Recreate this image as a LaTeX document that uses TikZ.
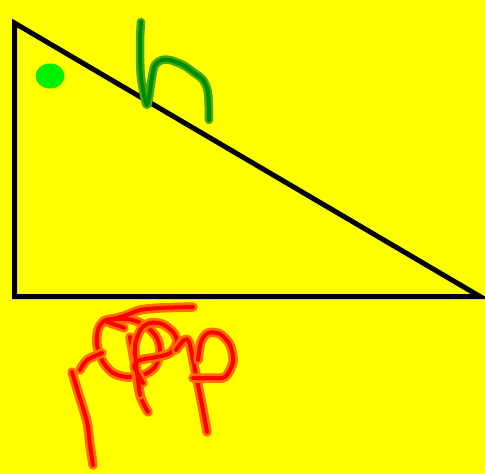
\documentclass[tikz,border=0pt]{standalone}
\begin{document}
\begin{tikzpicture}[x=1pt,y=-1pt,
  gstroke/.style={line cap=round,line join=round,draw=gin,line width=4pt,
    preaction={draw=gout,line width=8.5pt,line cap=round,line join=round}},
  rstroke/.style={line cap=round,line join=round,draw=rin,line width=4pt,
    preaction={draw=rout,line width=9.5pt,line cap=round,line join=round}}]
\definecolor{bg}{RGB}{255,255,0}
\definecolor{gout}{RGB}{70,170,20}
\definecolor{gin}{RGB}{0,140,0}
\definecolor{rout}{RGB}{255,110,0}
\definecolor{rin}{RGB}{255,0,0}
\definecolor{dot}{RGB}{0,240,0}
\fill[bg] (0,0) rectangle (485,474);
\useasboundingbox (0,0) rectangle (485,474);
% triangle
\coordinate (A) at (14.5,23);
\coordinate (B) at (14.5,296.5);
\coordinate (C) at (480,296.5);
\draw[line width=5pt,line join=miter] (A) -- (B) -- (C) -- cycle;
% green dot
\fill[dot] (50,76) ellipse [x radius=14.5, y radius=12.5];
% h
\draw[gstroke] plot[smooth,tension=0.5] coordinates {(141,22) (140,43) (141,77) (147,105) (152,77) (155,65) (162,60) (170,60) (183,65) (193,72) (203,80) (208,93) (209,120)};
% red scribble
\draw[rstroke] plot[smooth,tension=0.5] coordinates {(193,307) (160,308) (140,310) (127,315) (117,318) (104,321) (98,330) (97,345) (103,362) (113,373) (127,377) (143,375) (155,367) (160,352) (157,338) (147,327) (133,320) (118,319) (106,321) (122,327) (124,328)};
\draw[rstroke] plot[smooth,tension=0.5] coordinates {(72,372) (78,392) (87,422) (90,445) (93,465)};
\draw[rstroke] plot[smooth,tension=0.5] coordinates {(80,370) (87,360) (102,353)};
\draw[rstroke] plot[smooth,tension=0.5] coordinates {(130,337) (134,360) (140,395) (148,412)};
\draw[rstroke] plot[smooth,tension=0.5] coordinates {(143,383) (137,372) (134,366) (140,360) (157,357) (170,353) (177,342) (173,332) (162,324) (150,323) (141,329) (135,346) (137,372) (140,395)};
\draw[rstroke] plot[smooth,tension=0.5] coordinates {(176,350) (184,340) (189,342) (194,365) (198,385) (203,410) (207,432)};
\draw[rstroke] plot[smooth,tension=0.5] coordinates {(193,378) (210,378) (225,377) (233,362) (230,345) (220,334) (208,333) (201,342) (198,360)};
\end{tikzpicture}
\end{document}
